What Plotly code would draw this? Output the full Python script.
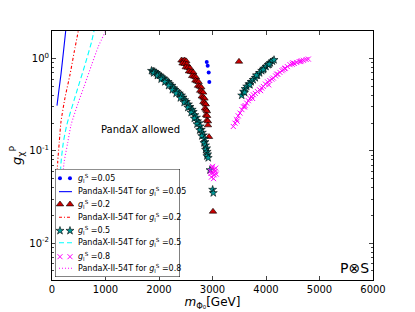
import plotly.graph_objects as go

# ---- data ----
blue_m = [2892, 2910, 2929, 2940]
blue_g = [0.92, 0.84, 0.71, 0.56]

red_m = [2420, 2450, 2480, 2510, 2440, 2480, 2520, 2500, 2540, 2580, 2560, 2600, 2640,
         2620, 2660, 2690, 2680, 2710, 2740, 2730, 2760, 2790, 2770, 2800, 2825,
         2800, 2830, 2850, 2830, 2855, 2875, 2860, 2880, 2895, 2880, 2900, 2895, 2915, 2915,
         2935, 3009, 3495]
red_g = [0.96, 0.95, 0.96, 0.94, 0.89, 0.88, 0.87, 0.81, 0.80, 0.79, 0.73, 0.72, 0.71,
         0.65, 0.64, 0.63, 0.58, 0.57, 0.56, 0.51, 0.50, 0.49, 0.45, 0.44, 0.43,
         0.39, 0.38, 0.37, 0.34, 0.33, 0.32, 0.29, 0.28, 0.27, 0.245, 0.24, 0.215, 0.21, 0.19,
         0.142, 0.022, 0.93]

teal_m = [1860, 1890, 1920, 1950, 1900, 1980, 2010, 1970, 2050, 2090, 2040, 2130, 2170, 2110,
          2200, 2240, 2180, 2270, 2300, 2250, 2340, 2380, 2320, 2420, 2450, 2400, 2480, 2510,
          2470, 2550, 2580, 2540, 2620, 2640, 2600, 2670, 2700, 2660, 2720, 2750, 2710, 2770,
          2790, 2760, 2810, 2830, 2800, 2850, 2860, 2840, 2870, 2890, 2870, 2900, 2910, 2895,
          2920, 2953, 3003, 3015,
          3546, 3580, 3610, 3640, 3680, 3720, 3760, 3800, 3840, 3880, 3920, 3960, 4000, 4040,
          4080, 4120, 4150, 3600, 3700, 3820, 3950, 4060]
teal_g = [0.74, 0.73, 0.72, 0.70, 0.70, 0.68, 0.66, 0.655, 0.63, 0.61, 0.60, 0.58, 0.56, 0.56,
          0.53, 0.51, 0.51, 0.48, 0.46, 0.46, 0.44, 0.42, 0.42, 0.40, 0.38, 0.375, 0.355, 0.34,
          0.335, 0.32, 0.30, 0.295, 0.28, 0.265, 0.26, 0.245, 0.23, 0.225, 0.21, 0.20, 0.195, 0.185,
          0.17, 0.168, 0.158, 0.148, 0.145, 0.135, 0.125, 0.122, 0.115, 0.107, 0.103, 0.098, 0.092, 0.088,
          0.084, 0.062, 0.038, 0.035,
          0.40, 0.44, 0.47, 0.50, 0.53, 0.56, 0.59, 0.62, 0.66, 0.70, 0.74, 0.78, 0.82, 0.86,
          0.90, 0.94, 0.97, 0.43, 0.52, 0.66, 0.76, 0.87]

mag_m = [2960, 2990, 3010, 3040, 3070, 2980, 3020, 3050, 3000, 3030, 2970, 3060,
         3389, 3420, 3450, 3480, 3514, 3550, 3580, 3610, 3639, 3670, 3700, 3730, 3763,
         3800, 3840, 3880, 3920, 3950, 3990, 4030, 4070, 4110, 4137, 4180, 4220, 4260,
         4300, 4323, 4360, 4400, 4449, 4490, 4530, 4574, 4620, 4660, 4700, 4750, 4791,
         3460, 3600, 3750, 3900, 4050, 4200, 4350, 4500, 4650]
mag_g = [0.060, 0.066, 0.058, 0.063, 0.056, 0.052, 0.050, 0.060, 0.068, 0.055, 0.057, 0.065,
         0.184, 0.20, 0.22, 0.24, 0.257, 0.28, 0.30, 0.31, 0.33, 0.35, 0.37, 0.39, 0.406,
         0.42, 0.44, 0.46, 0.48, 0.50, 0.53, 0.56, 0.58, 0.60, 0.617, 0.65, 0.68, 0.71,
         0.74, 0.76, 0.79, 0.82, 0.86, 0.87, 0.89, 0.91, 0.93, 0.95, 0.96, 0.98, 0.99,
         0.21, 0.30, 0.37, 0.45, 0.52, 0.68, 0.78, 0.90, 0.93]

lim005_m = [93, 130, 168, 215, 256]
lim005_g = [0.31, 0.46, 0.68, 1.2, 2.0]
lim02_m = [80, 107, 136, 168, 243, 336, 417, 492]
lim02_g = [0.04, 0.076, 0.125, 0.207, 0.377, 0.67, 1.2, 2.0]
lim05_m = [150, 168, 211, 275, 462, 617, 742, 785]
lim05_g = [0.04, 0.074, 0.122, 0.19, 0.44, 0.86, 1.54, 2.0]
lim08_m = [190, 224, 293, 355, 480, 600, 742, 865, 1004]
lim08_g = [0.04, 0.074, 0.122, 0.19, 0.32, 0.50, 0.86, 1.35, 2.0]

legend_labels = ["0.05", "0.2", "0.5", "0.8"]
x_ticks = [0, 1000, 2000, 3000, 4000, 5000, 6000]


def gS(v):
    return "<i>g</i><sub>l</sub><sup>S</sup> =" + v


series = [
    dict(m=blue_m, g=blue_g, lm=lim005_m, lg=lim005_g, c="#0000ff", lc="#0000ff",
         sym="circle", size=4, edge=0, dash="solid"),
    dict(m=red_m, g=red_g, lm=lim02_m, lg=lim02_g, c="#cc0000", lc="#ff0000",
         sym="triangle-up", size=6.5, edge=0.6, dash="3px,2px,1px,2px"),
    dict(m=teal_m, g=teal_g, lm=lim05_m, lg=lim05_g, c="#009999", lc="#00ffff",
         sym="star", size=6, edge=0.6, dash="5px,3px"),
    dict(m=mag_m, g=mag_g, lm=lim08_m, lg=lim08_g, c="#ff00ff", lc="#ff00ff",
         sym="x-thin", size=5, edge=1, dash="1px,2px"),
]

fig = go.Figure()
for s in series:
    edgecol = s["c"] if s["sym"] == "x-thin" else "black"
    fig.add_trace(go.Scatter(x=s["m"], y=s["g"], mode="markers", showlegend=False,
                             marker=dict(symbol=s["sym"], size=s["size"], color=s["c"],
                                         line=dict(color=edgecol, width=s["edge"]))))
    fig.add_trace(go.Scatter(x=s["lm"], y=s["lg"], mode="lines", showlegend=False,
                             line=dict(color=s["lc"], width=1.1, dash=s["dash"],
                                       shape="spline", smoothing=0.6)))

# ---- legend box drawn on a helper axis (pixel-like units) ----
row_y = [98.7, 85.3, 72.7, 59.7, 46.3, 34.3, 20.3, 8.7]
fig.add_trace(go.Scatter(x=[0, 125, 125, 0, 0], y=[0, 0, 108, 108, 0], xaxis="x2", yaxis="y2",
                         mode="lines", fill="toself", fillcolor="white",
                         line=dict(color="black", width=1), showlegend=False,
                         hoverinfo="skip"))
for i, s in enumerate(series):
    edgecol = s["c"] if s["sym"] == "x-thin" else "black"
    fig.add_trace(go.Scatter(x=[5, 15], y=[row_y[2 * i]] * 2, xaxis="x2", yaxis="y2",
                             mode="markers", showlegend=False, hoverinfo="skip",
                             marker=dict(symbol=s["sym"], size=s["size"], color=s["c"],
                                         line=dict(color=edgecol, width=s["edge"]))))
    fig.add_trace(go.Scatter(x=[4, 17], y=[row_y[2 * i + 1]] * 2, xaxis="x2", yaxis="y2",
                             mode="lines", showlegend=False, hoverinfo="skip",
                             line=dict(color=s["lc"], width=1.1, dash=s["dash"])))
    fig.add_annotation(x=21, y=row_y[2 * i], xref="x2", yref="y2", text=gS(legend_labels[i]),
                       xanchor="left", showarrow=False, font=dict(size=8))
    fig.add_annotation(x=21, y=row_y[2 * i + 1], xref="x2", yref="y2",
                       text="PandaX-II-54T for " + gS(legend_labels[i]),
                       xanchor="left", showarrow=False, font=dict(size=8))

fig.add_annotation(x=1645, y=-0.77, xref="x", yref="y", text="PandaX allowed",
                   showarrow=False, font=dict(size=10, color="black"))
fig.add_annotation(x=0.995, y=0.01, xref="paper", yref="paper", text="P⊗S",
                   xanchor="right", yanchor="bottom", showarrow=False,
                   font=dict(size=14, color="black"))

minor_vals = []
for d in [0.001, 0.01, 0.1, 1]:
    for k in range(2, 10):
        minor_vals.append(d * k)

fig.update_layout(
    width=415, height=312,
    margin=dict(l=52, r=42, t=31, b=32),
    paper_bgcolor="white", plot_bgcolor="white",
    font=dict(family="DejaVu Sans", size=10, color="black"),
    showlegend=False,
    xaxis=dict(range=[0, 6000], tickvals=x_ticks,
               ticks="inside", ticklen=4, showline=True, linecolor="black", linewidth=1,
               mirror="ticks", showgrid=False, zeroline=False, domain=[0, 1],
               automargin=False,
               title=dict(text="<i>m</i><sub>Φ₀</sub>[GeV]", font=dict(size=12), standoff=2)),
    yaxis=dict(type="log", range=[-2.4, 0.3], tickvals=[0.01, 0.1, 1],
               ticktext=["10<sup>-2</sup>", "10<sup>-1</sup>", "10<sup>0</sup>"],
               ticks="inside", ticklen=4, showline=True, linecolor="black", linewidth=1,
               mirror="ticks", showgrid=False, zeroline=False, domain=[0, 1],
               automargin=False,
               minor=dict(tickvals=minor_vals, ticks="inside", ticklen=2, showgrid=False),
               title=dict(text="<i>g</i><sub>χ</sub><sup>P</sup>", font=dict(size=13), standoff=4)),
    xaxis2=dict(domain=[0.0093, 0.3988], range=[0, 125], visible=False, fixedrange=True,
                anchor="y2"),
    yaxis2=dict(domain=[0.012, 0.446], range=[0, 108], visible=False, fixedrange=True,
                anchor="x2"),
)

fig.write_html("out.html", config={"displayModeBar": False},
               post_script="document.body.style.margin='0';document.body.style.padding='0';")
